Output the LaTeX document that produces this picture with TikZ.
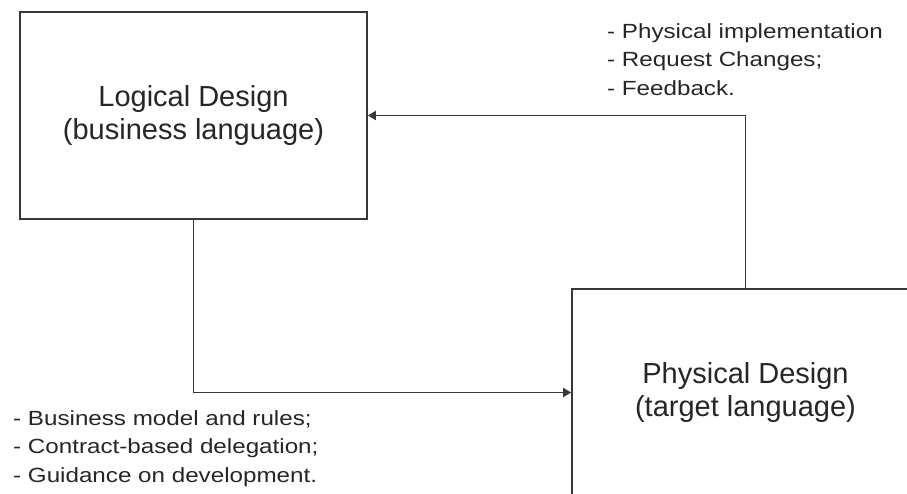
\documentclass[tikz,border=0pt]{standalone}
\usepackage{fontspec}
\setmainfont{Liberation Sans}
\newfontfamily\notesfont[FakeStretch=1.18]{Liberation Sans}
\usetikzlibrary{arrows.meta}
\definecolor{edge}{HTML}{383838}
\definecolor{ink}{HTML}{262626}
\tikzset{
  design/.style={draw=edge, line width=1.8pt, fill=white,
    minimum width=347pt, minimum height=207pt, inner sep=0pt,
    align=center, text=ink, font=\fontsize{29}{33}\selectfont},
  flow/.style={draw=edge, line width=1.8pt,
    -{Triangle[length=8pt,width=9pt]}},
  notes/.style={align=left, inner sep=0pt, text=ink,
    font=\notesfont\fontsize{20.5}{28.5}\selectfont}
}
\begin{document}
\begin{tikzpicture}[x=1pt,y=-1pt]
  \clip (0,0) rectangle (907,493);
  \fill[white] (0,0) rectangle (907,493);

  % the two design levels
  \node[design] (logical) at (193.5,115.5) {Logical Design\\(business language)};
  \node[design] (physical) at (745.5,392.5) {Physical Design\\(target language)};

  % forward and feedback flows
  \draw[flow] (logical.south) |- (physical.west);
  \draw[flow] (physical.north) |- (logical.east);

  % what travels along each flow
  \node[notes, anchor=north west] (backnotes) at (607,23)
    {- Physical implementation\\- Request Changes;\\- Feedback.};
  \node[notes, anchor=north west] (fwdnotes) at (13,410)
    {- Business model and rules;\\- Contract-based delegation;\\- Guidance on development.};
\end{tikzpicture}
\end{document}
